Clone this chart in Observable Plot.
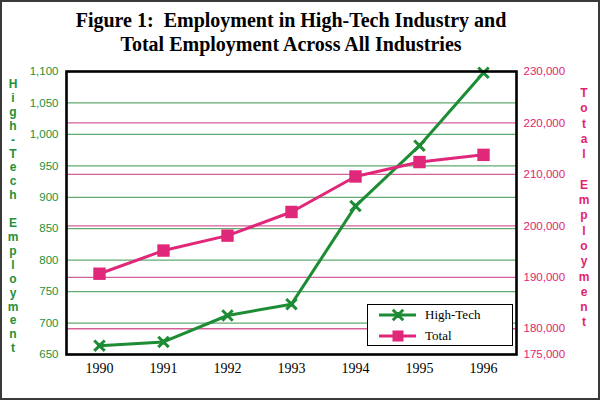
<!DOCTYPE html>
<html>
<head>
<meta charset="utf-8">
<script src="https://cdn.jsdelivr.net/npm/d3@7"></script>
<script src="https://cdn.jsdelivr.net/npm/@observablehq/plot@0.6"></script>
<style>
  html, body { margin: 0; padding: 0; background: #fff; }
  #wrap { position: relative; width: 600px; height: 400px; overflow: hidden; background: #fff; }
  #frame { position: absolute; left: 0; top: 0; width: 596px; height: 396px; border: 2px solid #3a3a3a; pointer-events: none; }
  #title { position: absolute; top: 8px; left: 291px; transform: translateX(-50%); white-space: nowrap;
           font-family: "Liberation Serif", serif; font-weight: bold; font-size: 20px; line-height: 24px; text-align: center; color: #000; }
  .vlabel { position: absolute; font-family: "Liberation Sans", sans-serif; font-weight: bold; font-size: 12px; text-align: center; width: 16px; }
  .vlabel span { display: block; }
  #legend { position: absolute; left: 367px; top: 304px; width: 144px; height: 40px; border: 1.5px solid #000; background: #fff;
            font-family: "Liberation Serif", serif; font-size: 13px; }
  #legend .row { position: absolute; left: 0; height: 20px; }
  #legend .row span { position: absolute; left: 57px; top: 2px; white-space: nowrap; }
</style>
</head>
<body>
<div id="wrap">
  <div id="chart"></div>
  <div id="title">Figure 1:&nbsp; Employment in High-Tech Industry and<br>Total Employment Across All Industries</div>
  <div id="lab-left" class="vlabel"></div>
  <div id="lab-right" class="vlabel"></div>
  <div id="legend"></div>
  <div id="frame"></div>
</div>
<script>
// ---- data ----
const years = [1990, 1991, 1992, 1993, 1994, 1995, 1996];
const highTech = [664, 670, 712, 730, 886, 982, 1098];
const total = [190700, 195200, 198100, 202700, 209600, 212400, 213800];
const leftTicks = [650, 700, 750, 800, 850, 900, 950, 1000, 1050, 1100];
const rightTicks = [175000, 180000, 190000, 200000, 210000, 220000, 230000];
const seriesNames = ["High-Tech", "Total"];
const leftTitle = "High-Tech Employment";
const rightTitle = "Total Employment";

// ---- styles ----
const GREEN = "#1e8c34";
const PINK = "#e0287a";
const GREEN_GRID = "#62aa72";
const PINK_GRID = "#d4609a";
const GREEN_TEXT = "#249038";
const PINK_TEXT = "#e2246e";

// map right-axis values onto left y scale
const L0 = 650, L1 = 1100, R0 = 175000, R1 = 230000;
const toLeft = v => L0 + (v - R0) * (L1 - L0) / (R1 - R0);
const fromLeft = v => Math.round(R0 + (v - L0) * (R1 - R0) / (L1 - L0));

const htData = years.map((y, i) => ({year: y, value: highTech[i]}));
const totData = years.map((y, i) => ({year: y, value: total[i], ly: toLeft(total[i])}));

const fmt = d3.format(",");

const plot = Plot.plot({
  width: 600,
  height: 400,
  marginLeft: 66,
  marginRight: 84,
  marginTop: 71,
  marginBottom: 46,
  style: {background: "transparent", overflow: "visible"},
  x: {type: "point", domain: years, padding: 0.5},
  y: {domain: [L0, L1]},
  marks: [
    Plot.ruleY(leftTicks.filter(v => v > L0 && v < L1), {stroke: GREEN_GRID, strokeWidth: 1.3}),
    Plot.ruleY(rightTicks.filter(v => v > R0 && v < R1).map(toLeft), {stroke: PINK_GRID, strokeWidth: 1.3}),
    Plot.axisY(leftTicks, {anchor: "left", tickSize: 0, tickPadding: 8, tickFormat: fmt, fill: GREEN_TEXT,
      fontFamily: "Liberation Sans, sans-serif", fontSize: 11.5, label: null}),
    Plot.axisY(rightTicks.map(toLeft), {anchor: "right", tickSize: 0, tickPadding: 7, tickFormat: v => fmt(fromLeft(v)), fill: PINK_TEXT,
      fontFamily: "Liberation Sans, sans-serif", fontSize: 11.5, label: null}),
    Plot.axisX({tickSize: 0, tickPadding: 9, tickFormat: d => String(d), fill: "#000",
      fontFamily: "Liberation Serif, serif", fontSize: 14, label: null}),
    Plot.line(htData, {x: "year", y: "value", stroke: GREEN, strokeWidth: 3}),
    Plot.dot(htData, {x: "year", y: "value", symbol: "times", r: 4.8, stroke: GREEN, strokeWidth: 3}),
    Plot.dot(htData, {x: "year", y: "value", symbol: "square", r: 2.8, fill: GREEN}),
    Plot.line(totData, {x: "year", y: "ly", stroke: PINK, strokeWidth: 3}),
    Plot.dot(totData, {x: "year", y: "ly", symbol: "square", r: 7, fill: PINK}),
    Plot.frame({stroke: "#000", strokeWidth: 2.6})
  ]
});
document.getElementById("chart").appendChild(plot);

// vertical stacked labels
function stack(el, text, color, left, top, lh) {
  el.style.left = left + "px";
  el.style.top = top + "px";
  el.style.color = color;
  el.style.lineHeight = lh + "px";
  for (const ch of text) {
    const s = document.createElement("span");
    s.textContent = ch === " " ? "\u00a0" : ch;
    el.appendChild(s);
  }
}
stack(document.getElementById("lab-left"), leftTitle, GREEN_TEXT, 5, 78, 13.9);
stack(document.getElementById("lab-right"), rightTitle, PINK_TEXT, 576, 86, 15.3);

// legend
const legend = document.getElementById("legend");
const colors = [GREEN, PINK];
seriesNames.forEach((name, i) => {
  const row = document.createElement("div");
  row.className = "row";
  row.style.top = (i * 21) + "px";
  const svg = d3.create("svg").attr("width", 50).attr("height", 20).style("position", "absolute").style("left", "0px").style("top", "0px");
  svg.append("line").attr("x1", 11).attr("x2", 48).attr("y1", 10).attr("y2", 10).attr("stroke", colors[i]).attr("stroke-width", 3);
  if (i === 0) {
    svg.append("path").attr("d", d3.symbol(d3.symbolTimes, Math.PI * 4.8 * 4.8)()).attr("transform", "translate(30,10)")
      .attr("stroke", GREEN).attr("stroke-width", 3).attr("fill", "none");
    svg.append("rect").attr("x", 27).attr("y", 7).attr("width", 6).attr("height", 6).attr("fill", GREEN);
  } else {
    svg.append("rect").attr("x", 24.5).attr("y", 4.5).attr("width", 11).attr("height", 11).attr("fill", PINK);
  }
  row.appendChild(svg.node());
  const t = document.createElement("span");
  t.textContent = name;
  row.appendChild(t);
  legend.appendChild(row);
});
</script>
</body>
</html>
